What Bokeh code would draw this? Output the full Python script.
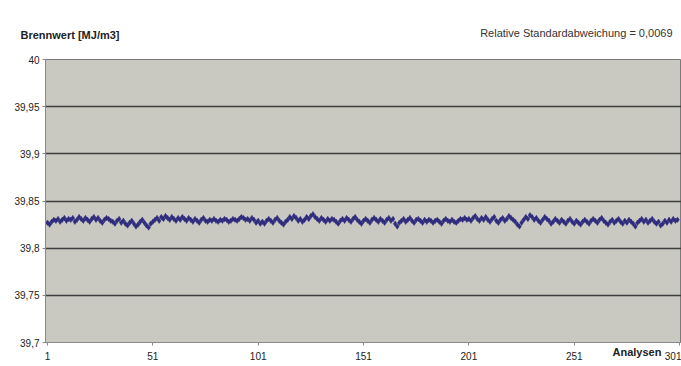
from bokeh.plotting import figure
from bokeh.models import Label, FixedTicker, Range1d
from bokeh.embed import file_html
from bokeh.resources import INLINE

# ---- data ----
values = [
    39.827, 39.825, 39.828, 39.830, 39.829, 39.831, 39.828, 39.830, 39.832, 39.829,
    39.831, 39.830, 39.832, 39.828, 39.830, 39.833, 39.831, 39.829, 39.832, 39.830,
    39.828, 39.831, 39.833, 39.830, 39.832, 39.829, 39.827, 39.830, 39.832, 39.831,
    39.829, 39.828, 39.826, 39.829, 39.831, 39.827, 39.829, 39.826, 39.824, 39.827,
    39.829, 39.826, 39.823, 39.825, 39.828, 39.830, 39.827, 39.824, 39.822, 39.826,
    39.828, 39.830, 39.832, 39.829, 39.833, 39.831, 39.834, 39.832, 39.830, 39.833,
    39.831, 39.829, 39.832, 39.830, 39.833, 39.831, 39.829, 39.832, 39.830, 39.828,
    39.831, 39.829, 39.827, 39.830, 39.832, 39.829, 39.828, 39.830, 39.829, 39.831,
    39.829, 39.828, 39.830, 39.829, 39.831, 39.830, 39.828, 39.829, 39.831, 39.830,
    39.829, 39.831, 39.833, 39.832, 39.830, 39.831, 39.829, 39.832, 39.830, 39.827,
    39.829, 39.826, 39.828, 39.826, 39.829, 39.831, 39.829, 39.827, 39.830, 39.832,
    39.829, 39.827, 39.825, 39.828, 39.830, 39.833, 39.831, 39.834, 39.832, 39.829,
    39.831, 39.828, 39.830, 39.833, 39.831, 39.834, 39.836, 39.833, 39.831, 39.829,
    39.832, 39.830, 39.828, 39.831, 39.829, 39.831, 39.830, 39.828, 39.826, 39.829,
    39.831, 39.829, 39.832, 39.830, 39.828, 39.831, 39.833, 39.830, 39.828, 39.826,
    39.829, 39.831, 39.829, 39.827, 39.830, 39.832, 39.830, 39.828, 39.831, 39.829,
    39.827, 39.830, 39.832, 39.829, 39.831, 39.826, 39.823, 39.827, 39.829, 39.831,
    39.828, 39.830, 39.832, 39.829, 39.827, 39.830, 39.831, 39.829, 39.827, 39.830,
    39.828, 39.830, 39.829, 39.827, 39.829, 39.830, 39.828, 39.826, 39.829, 39.831,
    39.829, 39.828, 39.830, 39.828, 39.827, 39.829, 39.831, 39.830, 39.832, 39.830,
    39.831, 39.829, 39.832, 39.834, 39.831, 39.829, 39.832, 39.830, 39.833, 39.830,
    39.828, 39.831, 39.833, 39.829, 39.827, 39.830, 39.832, 39.829, 39.831, 39.834,
    39.832, 39.830, 39.828, 39.825, 39.823, 39.827, 39.830, 39.833, 39.831, 39.835,
    39.833, 39.830, 39.832, 39.829, 39.827, 39.830, 39.833, 39.831, 39.829, 39.826,
    39.828, 39.831, 39.829, 39.827, 39.830, 39.828, 39.826, 39.829, 39.831, 39.828,
    39.826, 39.829, 39.827, 39.825, 39.828, 39.830, 39.828, 39.826, 39.829, 39.831,
    39.829, 39.827, 39.830, 39.832, 39.829, 39.827, 39.825, 39.828, 39.830, 39.827,
    39.829, 39.831, 39.828, 39.826, 39.829, 39.827, 39.830, 39.828, 39.826, 39.823,
    39.827, 39.829, 39.831, 39.828, 39.830, 39.827, 39.829, 39.831, 39.828, 39.826,
    39.828, 39.824, 39.826, 39.829, 39.827, 39.830, 39.828, 39.831, 39.829, 39.830,
]
analysen = list(range(1, len(values) + 1))

y_ticks = [39.7, 39.75, 39.8, 39.85, 39.9, 39.95, 40.0]
y_tick_labels = ["39,7", "39,75", "39,8", "39,85", "39,9", "39,95", "40"]
x_ticks = [1, 51, 101, 151, 201, 251, 301]

y_title = "Brennwert [MJ/m3]"
x_title = "Analysen"
note = "Relative Standardabweichung = 0,0069"

FONT = "Liberation Sans"

p = figure(width=681, height=366, output_backend="svg", toolbar_location=None,
           x_range=Range1d(0.05, 301.9), y_range=Range1d(39.7, 40.0),
           min_border_left=45, min_border_right=0, min_border_top=59,
           min_border_bottom=24)

p.background_fill_color = "#c9c9c1"
p.border_fill_color = "white"
p.outline_line_color = "#7a7a7a"
p.outline_line_width = 1

p.xgrid.visible = False
p.ygrid.ticker = FixedTicker(ticks=y_ticks)
p.ygrid.grid_line_color = "#3e3e3e"
p.ygrid.grid_line_width = 1.6

p.yaxis.ticker = FixedTicker(ticks=y_ticks)
p.yaxis.major_label_overrides = {t: l for t, l in zip(y_ticks, y_tick_labels)}
p.xaxis.ticker = FixedTicker(ticks=x_ticks)

for ax in (p.xaxis, p.yaxis):
    ax.axis_line_color = "#8a8a8a"
    ax.major_tick_line_color = "#8a8a8a"
    ax.major_tick_in = 0
    ax.major_tick_out = 3
    ax.minor_tick_line_color = None
    ax.major_label_text_font = FONT
    ax.major_label_text_font_size = "10px"
    ax.major_label_text_color = "#222222"
p.yaxis.major_label_standoff = 3
p.xaxis.major_label_standoff = 6

p.scatter(analysen, values, marker="diamond", size=5.5,
          fill_color="#2e2a7c", line_color="#2e2a7c", line_width=0.5)

p.add_layout(Label(x=20, y=34, x_units="canvas", y_units="canvas",
                   text=y_title, text_font=FONT, text_font_size="11px",
                   text_font_style="bold", text_color="#222222",
                   text_baseline="alphabetic"), "above")
p.add_layout(Label(x=672, y=32, x_units="canvas", y_units="canvas",
                   text=note, text_font=FONT, text_font_size="11px",
                   text_align="right", text_color="#333333",
                   text_baseline="alphabetic"), "above")
p.add_layout(Label(x=612, y=351, x_units="canvas", y_units="canvas",
                   text=x_title, text_font=FONT, text_font_size="11px",
                   text_font_style="bold", text_color="#222222",
                   text_baseline="alphabetic"), "above")

open("out.html", "w").write(file_html(p, INLINE))
